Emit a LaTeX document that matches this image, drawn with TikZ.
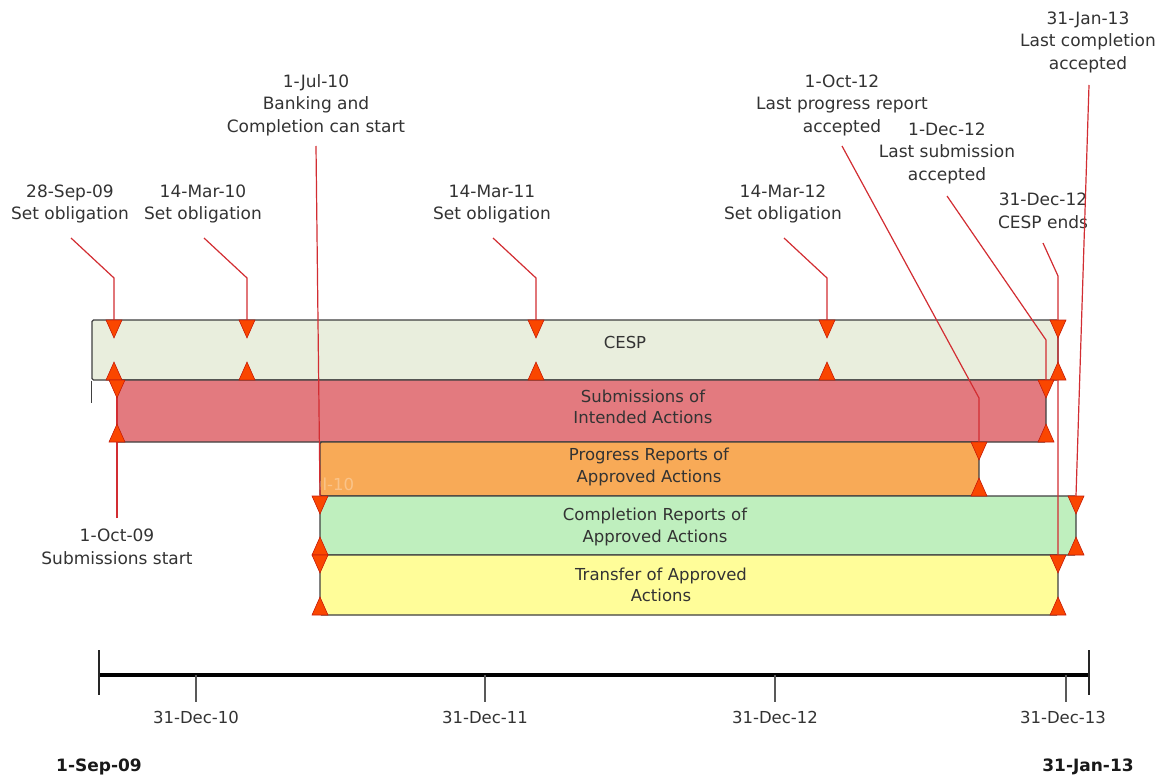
\documentclass[tikz,border=0pt]{standalone}
\usepackage{fontspec}
\setmainfont{DejaVu Sans}
\begin{document}
\begin{tikzpicture}[x=1pt,y=-1pt,
  txt/.style={text=black!80,align=center,inner sep=0pt,font=\fontsize{17}{22.5}\selectfont},
  bartxt/.style={text=black!80,align=center,inner sep=0pt,font=\fontsize{16.5}{21.5}\selectfont},
  axtxt/.style={text=black!80,inner sep=0pt,font=\fontsize{16.5}{20}\selectfont},
  boldtxt/.style={text=black!90,inner sep=0pt,font=\fontsize{17}{20}\selectfont\bfseries},
  bar/.style={draw=black!75,line width=1.3pt,rounded corners=1.5pt,inner sep=0pt,anchor=center},
  leader/.style={draw={rgb,255:red,210;green,45;blue,50},line width=1.2pt},
  tri/.style={fill={rgb,255:red,250;green,70;blue,0},draw={rgb,255:red,200;green,30;blue,10},line width=0.6pt},
  tdown/.pic={\filldraw[tri] (-8,0) -- (8,0) -- (0,18) -- cycle;},
  tup/.pic={\filldraw[tri] (-8,0) -- (8,0) -- (0,-18) -- cycle;}
]
\useasboundingbox (0,0) rectangle (1160,778);
\fill[white] (0,0) rectangle (1160,778);

% bars
\node[bar,fill={rgb,255:red,233;green,238;blue,221},minimum width=966pt,minimum height=60pt] (cesp) at (575,350) {};
\draw[draw=black!75,line width=1.3pt] (cesp.south west) -- ++(0,22);
\node[bar,fill={rgb,255:red,227;green,122;blue,127},minimum width=929pt,minimum height=62pt] (subm) at (581.5,411) {};
\node[bar,fill={rgb,255:red,248;green,170;blue,87},minimum width=659pt,minimum height=54pt] (prog) at (649.5,469) {};
\node[bar,fill={rgb,255:red,191;green,239;blue,190},minimum width=756pt,minimum height=59pt] (comp) at (698,525.5) {};
\node[bar,fill={rgb,255:red,255;green,253;blue,153},minimum width=738pt,minimum height=60pt] (tran) at (689,585) {};

% bar texts
\node[bartxt] (tcesp) at (625,342) {CESP};
\node[bartxt] (tsubm) at (643,407) {Submissions of\\Intended Actions};
\node[bartxt] (tprog) at (649,467) {Progress Reports of\\Approved Actions};
\node[bartxt] (tcomp) at (655,527) {Completion Reports of\\Approved Actions};
\node[bartxt] (ttran) at (661,585) {Transfer of Approved\\Actions};
\node[bartxt,text=white,opacity=0.3] (ghost) at (322,486) {1-Jul-10};

% labels
\node[txt] (l1) at (70,204) {28-Sep-09\\Set obligation};
\node[txt] (l2) at (203,204) {14-Mar-10\\Set obligation};
\node[txt] (l3) at (492,204) {14-Mar-11\\Set obligation};
\node[txt] (l4) at (783,204) {14-Mar-12\\Set obligation};
\node[txt] (l5) at (316,105) {1-Jul-10\\Banking and\\Completion can start};
\node[txt] (l6) at (842,105) {1-Oct-12\\Last progress report\\accepted};
\node[txt] (l7) at (947,153) {1-Dec-12\\Last submission\\accepted};
\node[txt] (l8) at (1043,211) {31-Dec-12\\CESP ends};
\node[txt] (l9) at (1088,42) {31-Jan-13\\Last completion\\accepted};
\node[txt] (l10) at (117,547) {1-Oct-09\\Submissions start};

% leader coordinates
\coordinate (a1) at (71,238);  \coordinate (b1) at (114,278);  \coordinate (c1) at (114,320);
\coordinate (a2) at (204,238); \coordinate (b2) at (247,278);  \coordinate (c2) at (247,320);
\coordinate (a3) at (493,238); \coordinate (b3) at (536,278);  \coordinate (c3) at (536,320);
\coordinate (a4) at (784,238); \coordinate (b4) at (827,278);  \coordinate (c4) at (827,320);
\coordinate (a5) at (316,146); \coordinate (c5) at (320,496);
\coordinate (a6) at (842,146); \coordinate (b6) at (979,398);  \coordinate (c6) at (979,442);
\coordinate (a7) at (947,196); \coordinate (b7) at (1046,340); \coordinate (c7) at (1046,380);
\coordinate (a8) at (1043,243); \coordinate (b8) at (1058,276); \coordinate (c8) at (1058,555);
\coordinate (a9) at (1089,85); \coordinate (c9) at (1076,496);
\coordinate (a10) at (117,518); \coordinate (c10) at (117,380);

\draw[leader] (a1) -- (b1) -- (c1);
\draw[leader] (a2) -- (b2) -- (c2);
\draw[leader] (a3) -- (b3) -- (c3);
\draw[leader] (a4) -- (b4) -- (c4);
\draw[leader] (a5) -- (c5);
\draw[leader] (a6) -- (b6) -- (c6);
\draw[leader] (a7) -- (b7) -- (c7);
\draw[leader] (a8) -- (b8) -- (c8);
\draw[leader] (a9) -- (c9);
\draw[leader] (a10) -- (c10);

% markers
\foreach \x in {114,247,536,827,1058} {\pic at (\x,320) {tdown}; \pic at (\x,380) {tup};}
\foreach \x in {117,1046} {\pic at (\x,380) {tdown}; \pic at (\x,442) {tup};}
\pic at (979,442) {tdown}; \pic at (979,496) {tup};
\foreach \x in {320,1076} {\pic at (\x,496) {tdown}; \pic at (\x,555) {tup};}
\foreach \x in {320,1058} {\pic at (\x,555) {tdown}; \pic at (\x,615) {tup};}

% axis
\coordinate (axL) at (99,675); \coordinate (axR) at (1089,675);
\draw[line width=4pt,black] (axL) -- (axR);
\draw[line width=1.5pt,black!85] (99,650) -- (99,695);
\draw[line width=1.5pt,black!85] (1089,650) -- (1089,695);
\foreach \x in {196,485,775,1066} {\draw[line width=1.5pt,black!65] (\x,675) -- (\x,702);}
\node[axtxt] (d10) at (196,717) {31-Dec-10};
\node[axtxt] (d11) at (485,717) {31-Dec-11};
\node[axtxt] (d12) at (775,717) {31-Dec-12};
\node[axtxt] (d13) at (1063,717) {31-Dec-13};
\node[boldtxt] (bs) at (99,767) {1-Sep-09};
\node[boldtxt] (be) at (1088,767) {31-Jan-13};
\end{tikzpicture}
\end{document}
